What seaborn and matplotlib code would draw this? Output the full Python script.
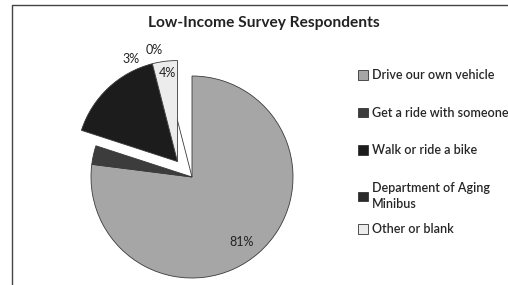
import numpy as np
import seaborn as sns
import matplotlib.pyplot as plt
from matplotlib.patches import Patch

categories = ["Drive our own vehicle", "Get a ride with someone", "Walk or ride a bike",
              "Department of Aging\nMinibus", "Other or blank"]
# slice sizes as drawn in the picture (the printed labels do not add up)
shares = [77, 3, 16, 0, 4]
shown_labels = ["81%", "", "3%", "0%", "4%"]

colors = ["#a6a6a6", "#3c3c3c", "#1c1c1c", "#2a2a2a", "#ececec"]
explode = [0, 0, 0.21, 0, 0]

sns.set_theme(style="white")
plt.rcParams['font.family'] = ['Lato', 'DejaVu Sans']

fig = plt.figure(figsize=(5.08, 2.85), dpi=100)
ax = fig.add_axes([0, 0, 1, 1])

R = 101
cx, cy = 192, 285 - 177
# pie() offsets exploded wedges in data units, so scale by the radius
wedges, _ = ax.pie(shares, colors=colors, explode=[e * R for e in explode],
                   startangle=90, counterclock=False,
                   radius=R, center=(cx, cy), frame=False,
                   wedgeprops=dict(edgecolor="#3a3a3a", linewidth=0.6))
# the "other" slice is pulled out together with the walk slice
wedges[4].set_center(wedges[2].center)

# data labels, placed along each slice's middle angle
label_dist = [0.81, 1.1, 1.11, 1.31, 0.88]
label_turn = [-4, 0, -19, 2, -1]
for w, txt, d, turn in zip(wedges, shown_labels, label_dist, label_turn):
    if not txt:
        continue
    mid = np.deg2rad((w.theta1 + w.theta2) / 2 + turn)
    x = w.center[0] + d * R * np.cos(mid)
    y = w.center[1] + d * R * np.sin(mid)
    ax.text(x, y, txt, ha="center", va="center", fontsize=9, color="#222222")

ax.set_xlim(0, 508)
ax.set_ylim(0, 285)
ax.set_aspect("equal")
ax.axis("off")

# chart border as in the scanned source (left and top edges only)
ax.plot([12, 12, 508], [0, 280, 280], color="#444444", linewidth=1.0)

fig.text(0.52, 0.92, "Low-Income Survey Respondents", ha="center", va="center",
         fontsize=11.2, fontweight="bold", color="#222222")

handles = [Patch(facecolor=c, edgecolor="#333333", linewidth=0.6) for c in colors]
leg_kw = dict(frameon=False, handlelength=0.8, handleheight=0.8, handletextpad=0.3,
              borderaxespad=0, prop=dict(size=9, weight="semibold"))
leg1 = fig.legend(handles[:4], categories[:4], loc="upper left",
                  bbox_to_anchor=(0.695, 0.775), labelspacing=2.05, **leg_kw)
for t in leg1.get_texts():
    t.set_linespacing(1.35)
fig.legend(handles[4:], categories[4:], loc="center left",
           bbox_to_anchor=(0.695, 0.196), **leg_kw)

fig.savefig("out.png", dpi=100)
